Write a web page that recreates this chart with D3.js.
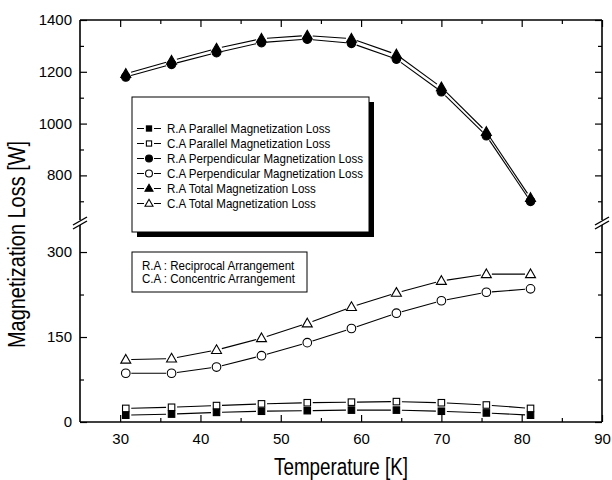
<!DOCTYPE html>
<html>
<head>
<meta charset="utf-8">
<script src="https://cdn.jsdelivr.net/npm/d3@7"></script>
<style>
  html, body { margin: 0; padding: 0; background: #fff; }
  svg { display: block; font-family: "Liberation Sans", Arial, sans-serif; }
</style>
</head>
<body>
<svg id="chart" width="612" height="480"></svg>
<script>
// ---- data ----
const temperature = [30.7, 36.4, 42.0, 47.6, 53.3, 58.8, 64.4, 70.0, 75.6, 81.1];
const raParallel = [12, 14, 17, 19, 20, 21, 21, 19, 16, 12];
const caParallel = [24, 26, 29, 32, 34, 35, 36, 34, 30, 24];
const raPerpendicular = [1180, 1229, 1274, 1313, 1326, 1310, 1249, 1123, 953, 700];
const caPerpendicular = [86, 86, 97, 117, 140, 165, 192, 214, 229, 235];
const raTotal = [1192, 1243, 1290, 1328, 1340, 1328, 1267, 1140, 968, 713];
const caTotal = [110, 112, 127, 148, 174, 203, 228, 249, 261, 261];

const xTicks = [30, 40, 50, 60, 70, 80, 90];
const xMinorTicks = [35, 45, 55, 65, 75, 85];
const yUpperTicks = [800, 1000, 1200, 1400];
const yUpperMinor = [700, 900, 1100, 1300];
const yLowerTicks = [0, 150, 300];
const yLowerMinor = [75, 225];

const seriesNames = [
  "R.A Parallel Magnetization Loss",
  "C.A Parallel Magnetization Loss",
  "R.A Perpendicular Magnetization Loss",
  "C.A Perpendicular Magnetization Loss",
  "R.A Total Magnetization Loss",
  "C.A Total Magnetization Loss"
];
const seriesValues = [raParallel, caParallel, raPerpendicular, caPerpendicular, raTotal, caTotal];
const seriesSymbols = ["sq-fill", "sq-open", "ci-fill", "ci-open", "tr-fill", "tr-open"];
const noteLines = ["R.A : Reciprocal Arrangement", "C.A : Concentric Arrangement"];

// ---- layout ----
const L = 80, R = 602, T = 20, B = 422, breakY = 223;
const svg = d3.select("#chart");

const x = d3.scaleLinear().domain([25, 90]).range([L, R]);
const yU = d3.scaleLinear().domain([620, 1400]).range([222, T]);
const yL = d3.scaleLinear().domain([0, 350]).range([B, 223.7]);
const yAny = v => (v >= 620 ? yU(v) : yL(v));

// ---- axes (ticks inward) ----
function styleAxis(g, showLabels) {
  g.select(".domain").remove();
  g.selectAll("line").attr("stroke", "#000").attr("stroke-width", 1.2);
  if (!showLabels) g.selectAll("text").remove();
  else g.selectAll("text").attr("fill", "#000").style("font-size", "15px")
        .style("font-family", "'Liberation Sans', Arial, sans-serif");
}
svg.append("g").attr("transform", `translate(0,${B})`)
  .call(d3.axisBottom(x).tickValues(xTicks).tickSize(-7).tickPadding(11).tickFormat(d3.format("d")))
  .call(g => styleAxis(g, true));
svg.append("g").attr("transform", `translate(0,${B})`)
  .call(d3.axisBottom(x).tickValues(xMinorTicks).tickSize(-4))
  .call(g => styleAxis(g, false));
svg.append("g").attr("transform", `translate(0,${T})`)
  .call(d3.axisTop(x).tickValues(xTicks).tickSize(-7))
  .call(g => styleAxis(g, false));
svg.append("g").attr("transform", `translate(0,${T})`)
  .call(d3.axisTop(x).tickValues(xMinorTicks).tickSize(-4))
  .call(g => styleAxis(g, false));

[[yU, yUpperTicks, yUpperMinor], [yL, yLowerTicks, yLowerMinor]].forEach(([sc, maj, min]) => {
  svg.append("g").attr("transform", `translate(${L},0)`)
    .call(d3.axisLeft(sc).tickValues(maj).tickSize(-7).tickPadding(8).tickFormat(d3.format("d")))
    .call(g => styleAxis(g, true));
  svg.append("g").attr("transform", `translate(${L},0)`)
    .call(d3.axisLeft(sc).tickValues(min).tickSize(-4))
    .call(g => styleAxis(g, false));
  svg.append("g").attr("transform", `translate(${R},0)`)
    .call(d3.axisRight(sc).tickValues(maj).tickSize(-7))
    .call(g => styleAxis(g, false));
  svg.append("g").attr("transform", `translate(${R},0)`)
    .call(d3.axisRight(sc).tickValues(min).tickSize(-4))
    .call(g => styleAxis(g, false));
});
svg.selectAll("g text").attr("dy", null);
svg.selectAll("g.tick text").each(function () {
  const t = d3.select(this);
  if (t.attr("x") !== null && +t.attr("x") < 0) t.attr("dy", "0.3em");
  else t.attr("dy", "0.71em");
});

// ---- frame with break ----
const frame = svg.append("g").attr("stroke", "#000").attr("stroke-width", 1.6).attr("fill", "none");
frame.append("line").attr("x1", L).attr("x2", R).attr("y1", T).attr("y2", T);
frame.append("line").attr("x1", L).attr("x2", R).attr("y1", B).attr("y2", B);
[L, R].forEach(xx => {
  frame.append("line").attr("x1", xx).attr("x2", xx).attr("y1", T).attr("y2", breakY - 3);
  frame.append("line").attr("x1", xx).attr("x2", xx).attr("y1", breakY + 2).attr("y2", B);
  frame.append("line").attr("x1", xx - 7).attr("x2", xx + 7).attr("y1", breakY + 2).attr("y2", breakY - 6).attr("stroke-width", 1.4);
  frame.append("line").attr("x1", xx - 7).attr("x2", xx + 7).attr("y1", breakY + 6).attr("y2", breakY - 2).attr("stroke-width", 1.4);
});

// ---- symbols ----
function drawSymbol(g, type, cx, cy, s) {
  s = s || 1;
  const filled = type.endsWith("fill");
  const fill = filled ? "#000" : "#fff";
  if (type.startsWith("sq")) {
    const a = 6.5 * s;
    g.append("rect").attr("x", cx - a / 2).attr("y", cy - a / 2).attr("width", a).attr("height", a)
      .attr("fill", fill).attr("stroke", "#000").attr("stroke-width", 1.1);
  } else if (type.startsWith("ci")) {
    g.append("circle").attr("cx", cx).attr("cy", cy).attr("r", 4.3 * s)
      .attr("fill", fill).attr("stroke", "#000").attr("stroke-width", 1.1);
  } else {
    const w = 10 * s, h = 8.7 * s;
    g.append("path")
      .attr("d", `M${cx},${cy - h * 0.6}L${cx + w / 2},${cy + h * 0.4}L${cx - w / 2},${cy + h * 0.4}Z`)
      .attr("fill", fill).attr("stroke", "#000").attr("stroke-width", 1.1);
  }
}

// ---- series lines with gaps at symbols ----
const gap = 5.5;
const linesG = svg.append("g").attr("stroke", "#000").attr("stroke-width", 1.1);
seriesValues.forEach(vals => {
  const pts = vals.map((v, i) => [x(temperature[i]), yAny(v)]);
  for (let i = 0; i < pts.length - 1; i++) {
    const [x0, y0] = pts[i], [x1, y1] = pts[i + 1];
    const dx = x1 - x0, dy = y1 - y0, len = Math.hypot(dx, dy);
    if (len <= 2 * gap) continue;
    const ux = dx / len, uy = dy / len;
    linesG.append("line")
      .attr("x1", x0 + ux * gap).attr("y1", y0 + uy * gap)
      .attr("x2", x1 - ux * gap).attr("y2", y1 - uy * gap);
  }
});
const symG = svg.append("g");
seriesValues.forEach((vals, k) => {
  vals.forEach((v, i) => drawSymbol(symG, seriesSymbols[k], x(temperature[i]), yAny(v)));
});

// ---- legend box with shadow ----
const lg = svg.append("g");
lg.append("rect").attr("x", 137).attr("y", 102).attr("width", 237).attr("height", 135).attr("fill", "#000");
lg.append("rect").attr("x", 132).attr("y", 97).attr("width", 237).attr("height", 135)
  .attr("fill", "#fff").attr("stroke", "#000").attr("stroke-width", 1);
seriesNames.forEach((name, i) => {
  const cy = 128.5 + i * 15;
  lg.append("line").attr("x1", 137).attr("x2", 144).attr("y1", cy).attr("y2", cy).attr("stroke", "#000").attr("stroke-width", 1);
  lg.append("line").attr("x1", 154).attr("x2", 161).attr("y1", cy).attr("y2", cy).attr("stroke", "#000").attr("stroke-width", 1);
  drawSymbol(lg, seriesSymbols[i], 149, cy, 0.8);
  lg.append("text").attr("transform", `translate(167,${cy + 4.6}) scale(0.89,1)`)
    .style("font-size", "13px").attr("fill", "#000").text(name);
});

// ---- note box ----
const nb = svg.append("g");
nb.append("rect").attr("x", 132).attr("y", 252).attr("width", 175).attr("height", 40)
  .attr("fill", "#fff").attr("stroke", "#000").attr("stroke-width", 1);
noteLines.forEach((t, i) => {
  nb.append("text").attr("transform", `translate(142,${265 + i * 13.5 + 4.6}) scale(0.89,1)`)
    .style("font-size", "13px").attr("fill", "#000").text(t);
});

// ---- axis titles ----
svg.append("text").attr("x", (L + R) / 2).attr("y", 475).attr("text-anchor", "middle")
  .attr("textLength", 134).attr("lengthAdjust", "spacingAndGlyphs")
  .style("font-size", "23px").attr("fill", "#000").text("Temperature [K]");
svg.append("text").attr("transform", "translate(25,244.5) rotate(-90)").attr("text-anchor", "middle")
  .attr("textLength", 207).attr("lengthAdjust", "spacingAndGlyphs")
  .style("font-size", "23px").attr("fill", "#000").text("Magnetization Loss [W]");
</script>
</body>
</html>
